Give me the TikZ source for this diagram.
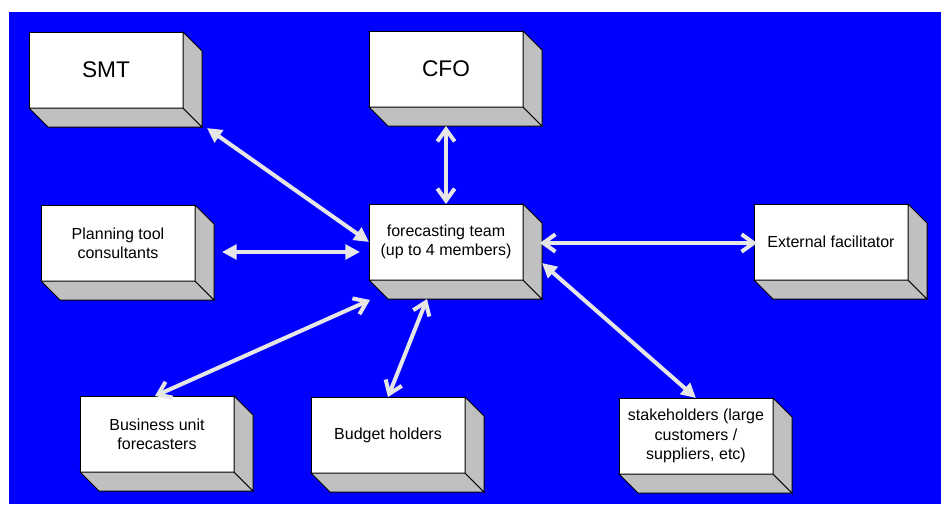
\documentclass[tikz,border=0pt]{standalone}
\usepackage{fontspec}
\setmainfont{Liberation Sans}
\usetikzlibrary{arrows.meta,calc}
\definecolor{bg}{RGB}{0,0,255}
\definecolor{sidegray}{RGB}{192,192,192}
\definecolor{arr}{RGB}{230,230,230}
\tikzset{
  box/.style={draw=black, fill=white, line width=0.75pt, minimum width=115.5pt,
    minimum height=57pt, inner sep=0pt, outer sep=0pt, align=center, text=black},
  sideface/.style={draw=black, fill=sidegray, line width=0.75pt, line join=miter},
  link/.style={draw=arr, line width=3pt},
  tri/.style={link, {Triangle[length=11pt,width=11pt]}-{Triangle[length=11pt,width=11pt]}},
  barb/.style={link, {Straight Barb[length=9pt,width=13pt]}-{Straight Barb[length=9pt,width=13pt]}},
  big/.style={font=\fontsize{17}{20}\selectfont},
  small/.style={font=\fontsize{12}{14.5}\selectfont}
}
\newcommand\cubebox[5]{%
  \node[box,#4] (#1) at (#2,#3) {#5};
  \filldraw[sideface] (#1.south west) -- (#1.south east) -- ($(#1.south east)+(19,19)$) -- ($(#1.south west)+(19,19)$) -- cycle;
  \filldraw[sideface] (#1.north east) -- ($(#1.north east)+(19,19)$) -- ($(#1.south east)+(19,19)$) -- (#1.south east) -- cycle;
}
\begin{document}
\begin{tikzpicture}[x=0.75pt,y=-0.75pt]
\useasboundingbox (0,0) rectangle (941,504);
\fill[white] (0,0) rectangle (941,504);
\fill[bg] (9,12) rectangle (941,504);

\cubebox{smt}{106}{70}{big}{SMT}
\cubebox{cfo}{446}{69}{big}{CFO}
\cubebox{plan}{118}{243}{small}{Planning tool\\consultants}
\cubebox{ft}{446}{242}{small}{forecasting team\\(up to 4 members)}
\cubebox{ext}{831}{242}{small}{External facilitator}
\cubebox{bus}{157}{434}{small}{Business unit\\forecasters}
\cubebox{bud}{388}{435}{small}{Budget holders}
\cubebox{stk}{696}{436}{small}{stakeholders (large\\customers /\\suppliers, etc)}

\draw[tri] ($(smt.south east)+(24,20)$) -- (ft.west);
\draw[barb] ($(cfo.south)+(0,19)$) -- (ft.north);
\draw[tri] ($(plan.east)+(27,9)$) -- ($(ft.west)+(-9,10)$);
\draw[barb] ($(ft.east)+(17,1)$) -- ($(ext.west)+(3,1)$);
\draw[tri] ($(ft.east)+(19,21)$) -- (stk.north);
\draw[barb] ($(ft.south west)+(1,20)$) -- ($(bus.north)+(-2,0)$);
\draw[barb] ($(ft.south)+(-19,19)$) -- (bud.north);
\end{tikzpicture}
\end{document}
